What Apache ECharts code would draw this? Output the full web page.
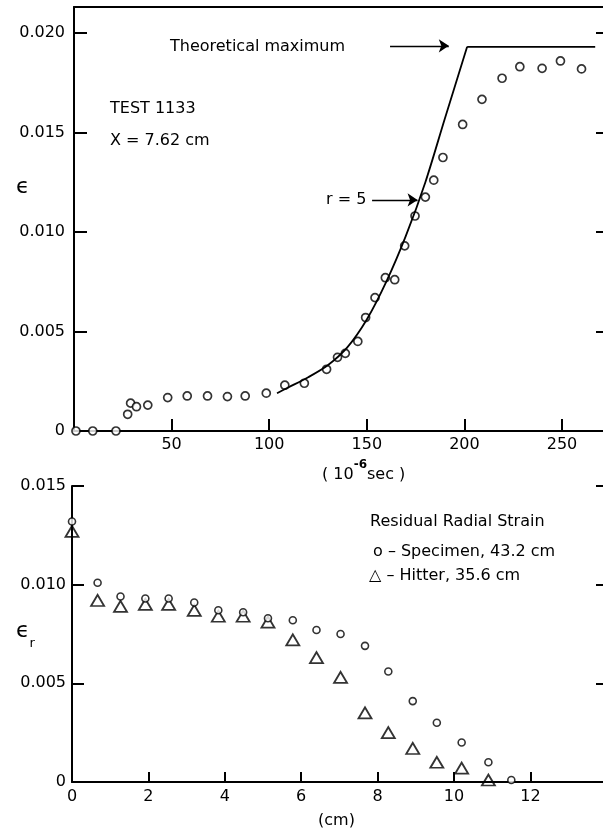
<!DOCTYPE html>
<html>
<head>
<meta charset="utf-8">
<script src="https://cdn.jsdelivr.net/npm/echarts@6/dist/echarts.min.js"></script>
<style>
  html, body { margin: 0; padding: 0; background: #fff; }
  #chart { width: 603px; height: 834px; }
</style>
</head>
<body>
<div id="chart"></div>
<script>
// top panel: strain vs time (10^-6 sec)
const topTime = [1, 9.6, 21.5, 27.5, 29, 32, 37.8, 48, 58, 68.4, 78.6, 87.7, 98.5, 108, 118, 129.4, 135, 139, 145.4, 149.4, 154.2, 159.5, 164.3, 169.4, 174.7, 180, 184.3, 189, 199.1, 209, 219.3, 228.4, 239.8, 249.2, 260]
const topStrain = [0, 0, 0, 0.00084, 0.0014, 0.00122, 0.0013, 0.00168, 0.00176, 0.00176, 0.00173, 0.00176, 0.0019, 0.0023, 0.0024, 0.0031, 0.0037, 0.0039, 0.0045, 0.0057, 0.0067, 0.0077, 0.0076, 0.0093, 0.0108, 0.01175, 0.0126, 0.01374, 0.0154, 0.01666, 0.01772, 0.0183, 0.01822, 0.01859, 0.01819]
// r = 5 curve
const curveTime = [104, 110, 120, 130, 140, 150, 160, 170, 180, 190, 201.4]
const curveStrain = [0.0019, 0.0022, 0.0027, 0.0033, 0.0042, 0.0056, 0.0075, 0.0098, 0.0125, 0.0157, 0.0193]
// theoretical maximum
const maxTime = [201.4, 267]
const maxStrain = [0.0193, 0.0193]

// bottom panel: residual radial strain vs position (cm)
const specimenPos = [0, 0.67, 1.27, 1.92, 2.53, 3.2, 3.83, 4.48, 5.13, 5.78, 6.4, 7.03, 7.67, 8.28, 8.92, 9.55, 10.2, 10.9, 11.5]
const specimenStrain = [0.0132, 0.0101, 0.0094, 0.0093, 0.0093, 0.0091, 0.0087, 0.0086, 0.0083, 0.0082, 0.0077, 0.0075, 0.0069, 0.0056, 0.0041, 0.0030, 0.0020, 0.0010, 0.0001]
const hitterPos = [0, 0.67, 1.27, 1.92, 2.53, 3.2, 3.83, 4.48, 5.13, 5.78, 6.4, 7.03, 7.67, 8.28, 8.92, 9.55, 10.2, 10.9]
const hitterStrain = [0.0127, 0.0092, 0.0089, 0.0090, 0.0090, 0.0087, 0.0084, 0.0084, 0.0081, 0.0072, 0.0063, 0.0053, 0.0035, 0.0025, 0.0017, 0.0010, 0.0007, 0.0001]

const zip = (xs, ys) => xs.map((x, i) => [x, ys[i]])
const font = 'DejaVu Sans'
const ink = '#000'
const fmtStrain = v => (v === 0 ? '0' : v.toFixed(3))

const chart = echarts.init(document.getElementById('chart'), null, { renderer: 'canvas' })

const lineStyle = { color: ink, width: 2 }
const label = { color: ink, fontFamily: font, fontSize: 16 }

chart.setOption({
	backgroundColor: '#fff',
	animation: false,
	grid: [
		{ left: 74, top: 7, width: 529, height: 424 },
		{ left: 72, top: 486, width: 531, height: 296 },
	],
	xAxis: [
		{
			gridIndex: 0, type: 'value', min: 0, max: 271, interval: 50,
			axisLine: { lineStyle }, splitLine: { show: false },
			axisTick: { inside: true, length: 12, lineStyle },
			axisLabel: Object.assign({ margin: 6, showMinLabel: false, showMaxLabel: false }, label),
		},
		{
			gridIndex: 0, type: 'value', position: 'top', min: 0, max: 271,
			axisLine: { onZero: false, lineStyle }, splitLine: { show: false },
			axisTick: { show: false }, axisLabel: { show: false },
		},
		{
			gridIndex: 1, type: 'value', min: 0, max: 13.9, interval: 2,
			axisLine: { lineStyle }, splitLine: { show: false },
			axisTick: { inside: true, length: 10, lineStyle },
			axisLabel: Object.assign({ margin: 7, showMaxLabel: false }, label),
		},
	],
	yAxis: [
		{
			gridIndex: 0, type: 'value', min: 0, max: 0.0213, interval: 0.005,
			axisLine: { show: true, lineStyle }, splitLine: { show: false },
			axisTick: { inside: true, length: 13, lineStyle },
			axisLabel: Object.assign({ margin: 9, showMaxLabel: false, formatter: fmtStrain }, label),
		},
		{
			// outer half of the crossing ticks
			gridIndex: 0, type: 'value', min: 0, max: 0.0213, interval: 0.005,
			axisLine: { show: false }, splitLine: { show: false },
			axisTick: { inside: false, length: 7, lineStyle }, axisLabel: { show: false },
		},
		{
			gridIndex: 0, type: 'value', position: 'right', min: 0, max: 0.0213, interval: 0.005,
			axisLine: { show: false }, splitLine: { show: false },
			axisTick: { inside: true, length: 7, lineStyle }, axisLabel: { show: false },
		},
		{
			gridIndex: 1, type: 'value', min: 0, max: 0.015, interval: 0.005,
			axisLine: { show: true, lineStyle }, splitLine: { show: false },
			axisTick: { inside: true, length: 12, lineStyle },
			axisLabel: Object.assign({ margin: 6, formatter: fmtStrain }, label),
		},
		{
			gridIndex: 1, type: 'value', position: 'right', min: 0, max: 0.015, interval: 0.005,
			axisLine: { show: false }, splitLine: { show: false },
			axisTick: { inside: true, length: 7, lineStyle }, axisLabel: { show: false },
		},
	],
	series: [
		{
			type: 'line', xAxisIndex: 0, yAxisIndex: 0, data: zip(curveTime, curveStrain),
			smooth: 0.3, showSymbol: false, lineStyle: { color: ink, width: 1.8 },
			markLine: {
				silent: true, symbol: ['none', 'arrow'], symbolSize: 10,
				label: { show: false }, lineStyle: { color: ink, width: 1.4, type: 'solid' },
				emphasis: { disabled: true },
				data: [
					[{ coord: [152.7, 0.01161] }, { coord: [176, 0.01161] }],
					[{ coord: [161.9, 0.01935] }, { coord: [192, 0.01935] }],
				],
			},
		},
		{
			type: 'line', xAxisIndex: 0, yAxisIndex: 0, data: zip(maxTime, maxStrain),
			showSymbol: false, lineStyle: { color: ink, width: 1.8 },
		},
		{
			type: 'scatter', xAxisIndex: 0, yAxisIndex: 0, data: zip(topTime, topStrain),
			symbol: 'circle', symbolSize: 8,
			itemStyle: { color: '#fff', borderColor: ink, borderWidth: 1.7 },
		},
		{
			type: 'scatter', xAxisIndex: 2, yAxisIndex: 3, data: zip(hitterPos, hitterStrain),
			symbol: 'triangle', symbolSize: [13, 11],
			itemStyle: { color: 'rgba(255,255,255,0)', borderColor: ink, borderWidth: 1.8 },
		},
		{
			type: 'scatter', xAxisIndex: 2, yAxisIndex: 3, data: zip(specimenPos, specimenStrain),
			symbol: 'circle', symbolSize: 7,
			itemStyle: { color: '#fff', borderColor: ink, borderWidth: 1.6 },
		},
	],
	graphic: [
		{ type: 'text', left: 170, top: 39, style: { text: 'Theoretical maximum', font: '16px ' + font, fill: ink } },
		{ type: 'text', left: 110, top: 101, style: { text: 'TEST 1133', font: '16px ' + font, fill: ink } },
		{ type: 'text', left: 110, top: 133, style: { text: 'X = 7.62 cm', font: '16px ' + font, fill: ink } },
		{ type: 'text', left: 326, top: 192, style: { text: 'r = 5', font: '16px ' + font, fill: ink } },
		{ type: 'text', left: 16, top: 176, style: { text: 'ϵ', font: '22px ' + font, fill: ink } },
		{
			type: 'text', left: 322, top: 459,
			style: {
				text: '{p|( 10}{s|-6}{p|sec )}', fill: ink,
				rich: {
					p: { fontFamily: font, fontSize: 16, color: ink, verticalAlign: 'bottom', lineHeight: 24 },
					s: { fontFamily: font, fontSize: 12, fontWeight: 'bold', color: ink, verticalAlign: 'top', lineHeight: 24 },
				},
			},
		},
		{ type: 'text', left: 370, top: 514, style: { text: 'Residual Radial Strain', font: '16px ' + font, fill: ink } },
		{ type: 'text', left: 373, top: 544, style: { text: 'o – Specimen, 43.2 cm', font: '16px ' + font, fill: ink } },
		{ type: 'text', left: 369, top: 568, style: { text: '△ – Hitter, 35.6 cm', font: '16px ' + font, fill: ink } },
		{
			type: 'text', left: 16, top: 620,
			style: {
				text: '{e|ϵ}{r|r}', fill: ink,
				rich: {
					e: { fontFamily: font, fontSize: 22, color: ink, verticalAlign: 'top', lineHeight: 30 },
					r: { fontFamily: font, fontSize: 13, color: ink, verticalAlign: 'bottom', lineHeight: 30 },
				},
			},
		},
		{ type: 'text', left: 318, top: 813, style: { text: '(cm)', font: '16px ' + font, fill: ink } },
	],
})
</script>
</body>
</html>
